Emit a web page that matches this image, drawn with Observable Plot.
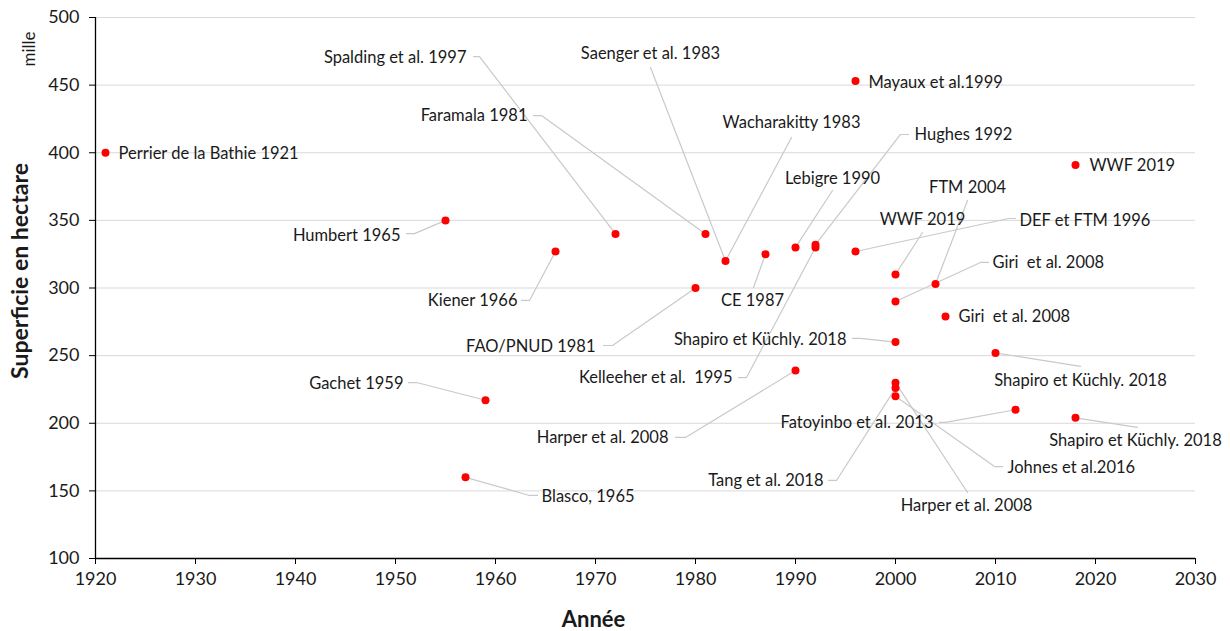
<!DOCTYPE html>
<html>
<head>
<meta charset="utf-8">
<script src="https://cdn.jsdelivr.net/npm/d3@7"></script>
<script src="https://cdn.jsdelivr.net/npm/@observablehq/plot@0.6"></script>
<style>
  html, body { margin: 0; padding: 0; background: #fff; }
  #chart svg { display: block; }
</style>
</head>
<body>
<div id="chart"></div>
<script>
// ---- Data ----
const years  = [1921, 1955, 1966, 1972, 1981, 1983, 1987, 1990, 1992, 1992, 1996, 1996, 2000, 2004, 2000, 2005, 2018, 1980, 2000, 2010, 2000, 2000, 2000, 2012, 2018, 1990, 1959, 1957];
const values = [400, 350, 327, 340, 340, 320, 325, 330, 332, 330, 327, 453, 310, 303, 290, 279, 391, 300, 260, 252, 230, 226, 220, 210, 204, 239, 217, 160];

const xTicks = [1920, 1930, 1940, 1950, 1960, 1970, 1980, 1990, 2000, 2010, 2020, 2030];
const yTicks = [100, 150, 200, 250, 300, 350, 400, 450, 500];

// label text + index of the point it annotates
const labelTexts = [
  "Perrier de la Bathie 1921", "Spalding et al. 1997", "Saenger et al. 1983", "Faramala 1981",
  "Wacharakitty 1983", "Hughes 1992", "Lebigre 1990", "FTM 2004", "WWF 2019", "DEF et FTM 1996",
  "Giri  et al. 2008", "Giri  et al. 2008", "Mayaux et al.1999", "WWF 2019", "Humbert 1965",
  "Kiener 1966", "CE 1987", "FAO/PNUD 1981", "Shapiro et Küchly. 2018", "Kelleeher et al.  1995",
  "Harper et al. 2008", "Gachet 1959", "Blasco, 1965", "Tang et al. 2018", "Harper et al. 2008",
  "Johnes et al.2016", "Fatoyinbo et al. 2013", "Shapiro et Küchly. 2018", "Shapiro et Küchly. 2018"
];
const labelPoint = [0, 3, 5, 4, 5, 8, 7, 13, 12, 10, 14, 15, 11, 16, 1, 2, 6, 17, 18, 9, 25, 26, 27, 21, 20, 22, 23, 19, 24];

// ---- Annotation layout (label anchors and leader waypoints, in data units) ----
const labelX = [1922.3, 1957.1, 1975.5, 1963.2, 1989.6, 2001.9, 1993.7, 2007.2, 2002.7, 2012.4,
                2009.7, 2006.3, 1997.3, 2019.4, 1950.5, 1962.2, 1985.7, 1970.0, 1995.1, 1983.7,
                1977.3, 1950.8, 1964.6, 1992.8, 2007.1, 2011.2, 2003.8, 2018.5, 2024.0];
const labelY = [399.4, 470.4, 473.4, 427.5, 422.4, 413.5, 381.0, 374.3, 350.6, 349.9,
                318.9, 278.9, 451.9, 390.6, 338.8, 290.8, 290.8, 256.7, 261.9, 233.8,
                189.5, 229.4, 145.8, 157.7, 139.2, 167.3, 200.6, 231.6, 187.2];
const labelAnchor = ["start", "end", "middle", "end", "middle", "start", "middle", "middle", "middle", "start",
                     "start", "start", "start", "start", "end", "end", "middle", "end", "end", "end",
                     "end", "end", "start", "end", "middle", "start", "end", "middle", "middle"];
const leaders = [
  [], [[1957.8, 471.1], [1958.4, 471.1]], [[1975.5, 463.0]], [[1963.8, 427.5], [1964.6, 427.5]],
  [[1989.6, 411.3]], [[2001.3, 413.5], [2000.5, 413.5]], [[1993.7, 372.1]], [[2007.2, 364.7]],
  [[2002.7, 341.0]], [[2012.0, 351.4], [2011.3, 351.4]], [[2009.3, 318.9], [2008.5, 318.9]], [], [], [],
  [[1951.1, 340.2], [1951.9, 340.2]], [[1962.6, 290.8], [1963.4, 290.8]], [[1985.8, 300.4]],
  [[1970.8, 257.5], [1971.7, 257.5]], [[1995.7, 262.7], [1996.5, 262.7]], [[1984.3, 233.8], [1985.1, 233.8]],
  [[1978.0, 189.5], [1979.0, 189.5]], [[1951.3, 230.1], [1952.1, 230.1]], [[1964.2, 146.6], [1963.4, 146.6]],
  [[1993.3, 157.7], [1994.1, 157.7]], [[2007.2, 148.8]], [[2010.7, 168.0], [2009.9, 168.0]],
  [[2004.4, 200.6], [2005.0, 200.6]], [[2018.5, 242.0]], [[2024.2, 196.9]]
];

// ---- Build tables ----
const points = years.map((x, i) => ({x, y: values[i]}));
const labels = labelTexts.map((text, i) => ({text, x: labelX[i], y: labelY[i], anchor: labelAnchor[i]}));
const leaderData = labelTexts.flatMap((t, i) => leaders[i].length
  ? [...leaders[i].map(([x, y]) => ({id: i, x, y})), {id: i, x: years[labelPoint[i]], y: values[labelPoint[i]]}]
  : []);

const FONT = "Lato, 'Open Sans', sans-serif";
const INK = "#1a1a1a";

const textMark = (anchor) => Plot.text(labels.filter(d => d.anchor === anchor), {
  x: "x", y: "y", text: "text", textAnchor: anchor, lineAnchor: "middle", fontSize: 16.5, fill: INK
});

const chart = Plot.plot({
  width: 1230,
  height: 631,
  marginLeft: 95,
  marginRight: 35,
  marginTop: 17,
  marginBottom: 73,
  style: {fontFamily: FONT, fontSize: "18px", color: INK, background: "#fff", overflow: "visible"},
  x: {domain: [1920, 2030]},
  y: {domain: [100, 500]},
  marks: [
    Plot.ruleY(yTicks.filter(d => d > 100), {stroke: "#d9d9d9", strokeWidth: 1}),
    Plot.axisX({ticks: xTicks, tickFormat: d => String(d), tickSize: 6, tickPadding: 8, stroke: "#000", fill: INK, label: null}),
    Plot.axisY({ticks: yTicks, tickSize: 6, tickPadding: 10, stroke: "#000", fill: INK, label: null}),
    Plot.ruleX([1920], {stroke: "#000", strokeWidth: 1.3}),
    Plot.ruleY([100], {stroke: "#000", strokeWidth: 1.3}),
    Plot.line(leaderData, {x: "x", y: "y", z: "id", stroke: "#c9c9c9", strokeWidth: 1.2, curve: "linear"}),
    Plot.dot(points, {x: "x", y: "y", r: 4, fill: "#ff0000", stroke: "none"}),
    textMark("start"),
    textMark("end"),
    textMark("middle"),
    Plot.text(["Superficie en hectare"], {frameAnchor: "left", text: d => d, rotate: -90, textAnchor: "middle", lineAnchor: "middle", dx: -75, dy: -17, fontSize: "23px", fontWeight: "bold", fill: INK}),
    Plot.text(["mille"], {frameAnchor: "left", text: d => d, rotate: -90, textAnchor: "middle", lineAnchor: "middle", dx: -66, dy: -239, fontSize: 17, fontWeight: "normal", fill: INK}),
    Plot.text(["Année"], {frameAnchor: "bottom", text: d => d, textAnchor: "middle", lineAnchor: "middle", dx: -52, dy: 61, fontSize: "22px", fontWeight: "bold", fill: INK})
  ]
});

document.getElementById("chart").appendChild(chart);
</script>
</body>
</html>
